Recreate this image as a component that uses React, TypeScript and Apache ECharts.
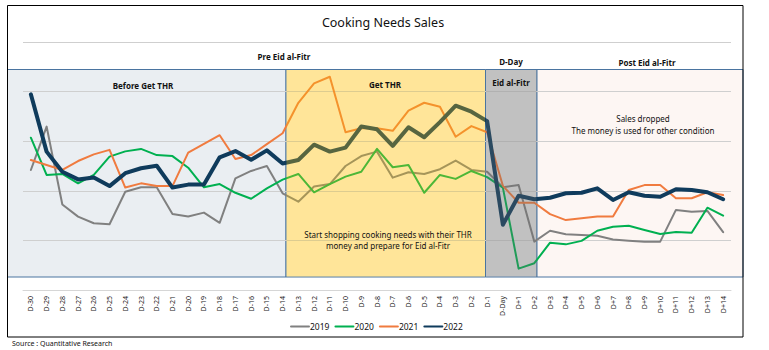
import React, { useEffect, useRef } from "react";
import * as echarts from "echarts";

const categories = [
  "D-30","D-29","D-28","D-27","D-26","D-25","D-24","D-23","D-22","D-21",
  "D-20","D-19","D-18","D-17","D-16","D-15","D-14","D-13","D-12","D-11",
  "D-10","D-9","D-8","D-7","D-6","D-5","D-4","D-3","D-2","D-1",
  "D-Day","D+1","D+2","D+3","D+4","D+5","D+6","D+7","D+8","D+9",
  "D+10","D+11","D+12","D+13","D+14",
];

const sales2019 = [
  48.4, 65.9, 34.5, 29.6, 26.9, 26.5, 39.6, 41.4, 41.4, 30.6,
  29.6, 31.2, 27.1, 45, 48, 50, 39, 35.6, 41.7, 42.7,
  50, 54, 55.8, 45.3, 47.5, 46.8, 48.7, 52.2, 48.4, 47.7,
  41.4, 42.3, 19.5, 23.9, 22.5, 22.2, 21.9, 20.4, 19.9, 19.5,
  19.5, 32.3, 31.6, 31.9, 23.3,
];
const sales2020 = [
  61.4, 46.4, 46.8, 43, 46.4, 53.8, 55.9, 56.9, 54.4, 54,
  49.3, 41.4, 42.7, 39.2, 36.8, 41, 44.5, 46.8, 39.4, 42.7,
  45.7, 47.7, 56.9, 49.5, 50.4, 39.2, 46.4, 44.8, 48, 45.5,
  41.3, 8.6, 10.8, 19.1, 18.4, 19.8, 23.9, 25.5, 25.9, 24.2,
  22.6, 23.4, 23.1, 33.2, 30,
];
const sales2021 = [
  52.4, 50.4, 48.4, 52, 54.7, 56.5, 41.3, 43, 41.9, 41.9,
  55.4, 58.9, 62.4, 52.8, 54.4, 58.8, 63.2, 75.5, 83.3, 86,
  63.6, 65.2, 65.2, 64.2, 72.3, 75.5, 73.9, 61.8, 66.1, 63.6,
  42, 35.2, 35.2, 30.6, 28.2, 28.9, 29.6, 29.6, 40.3, 42.3,
  42.3, 37, 37, 39.4, 38.3,
];
const sales2022 = [
  78.9, 55.8, 47.7, 44.6, 45.4, 41.9, 47.1, 49.1, 50.1, 41.3,
  42.5, 42.5, 53.5, 56, 52.5, 56.3, 51, 52.4, 58.6, 55.8,
  57.4, 65.9, 64.8, 58.1, 65.6, 61.6, 67.7, 74.3, 71.9, 68.1,
  26.3, 38, 36.6, 37.2, 39, 39.2, 41, 36.3, 39.4, 38,
  37.6, 40.6, 40.3, 39.4, 36.6,
];

const seriesNames = ["2019", "2020", "2021", "2022"];
const seriesColors = ["#808080", "#00B050", "#F07B3F", "#0F3B5C"];
const seriesWidths = [2, 2, 2, 4];
const seriesData = [sales2019, sales2020, sales2021, sales2022];

const FONT = "'Noto Sans', sans-serif";

function txt(text: string, x: number, y: number, size: number, bold = false, align = "center") {
  return {
    type: "text",
    x,
    y,
    z: 20,
    style: {
      text,
      fontSize: size,
      fontWeight: bold ? "bold" : "normal",
      fontFamily: FONT,
      fill: "#111",
      align,
      verticalAlign: "middle",
    },
  };
}

export default function App() {
  const ref = useRef<HTMLDivElement>(null);

  useEffect(() => {
    document.body.style.margin = "0";
    if (!ref.current) return;
    const chart = echarts.init(ref.current, undefined, { renderer: "svg" });
    const panelStroke = "#4A74A0";
    const option = {
      animation: false,
      backgroundColor: "#ffffff",
      textStyle: { fontFamily: FONT },
      grid: { left: 23, right: 38, top: 42, bottom: 60 },
      xAxis: {
        type: "category",
        data: categories,
        boundaryGap: true,
        axisLine: { show: true, lineStyle: { color: "#d6d6d6", width: 1 } },
        axisTick: { show: false },
        axisLabel: {
          interval: 0,
          rotate: 90,
          fontSize: 7,
          color: "#222",
          margin: 6,
          fontFamily: FONT,
        },
      },
      yAxis: {
        type: "value",
        min: 0,
        max: 100,
        interval: 20,
        axisLabel: { show: false },
        axisLine: { show: false },
        axisTick: { show: false },
        splitLine: { lineStyle: { color: "#cfcfcf", width: 1 } },
      },
      legend: {
        data: seriesNames,
        left: 285,
        top: 317,
        itemWidth: 18,
        itemHeight: 10,
        itemGap: 5,
        itemStyle: { opacity: 0 },
        textStyle: { fontSize: 8.5, color: "#111", fontFamily: FONT, padding: [0, 0, 0, -4] },
      },
      series: seriesNames.map((name, i) => ({
        name,
        type: "line",
        data: seriesData[i],
        symbol: "none",
        z: 2 + i,
        lineStyle: { color: seriesColors[i], width: seriesWidths[i], cap: "round", join: "round" },
        itemStyle: { color: seriesColors[i] },
      })),
      graphic: [
        { type: "rect", z: -5, shape: { x: 7.5, y: 69.5, width: 278.5, height: 207.5 }, style: { fill: "#EAEEF2", stroke: panelStroke, lineWidth: 1 } },
        { type: "rect", z: -5, shape: { x: 286, y: 69.5, width: 199.5, height: 207.5 }, style: { fill: "#FFF3DB", stroke: panelStroke, lineWidth: 1 } },
        { type: "rect", z: -5, shape: { x: 485.5, y: 69.5, width: 51.5, height: 207.5 }, style: { fill: "#E6E6E6", stroke: panelStroke, lineWidth: 1 } },
        { type: "rect", z: -5, shape: { x: 537, y: 69.5, width: 206, height: 207.5 }, style: { fill: "#FDF6F3", stroke: panelStroke, lineWidth: 1 } },
        { type: "rect", z: 10, shape: { x: 286.5, y: 70, width: 198.5, height: 206.5 }, style: { fill: "rgba(255,200,0,0.3)" } },
        { type: "rect", z: 10, shape: { x: 486, y: 70, width: 50.5, height: 206.5 }, style: { fill: "rgba(110,110,110,0.3)" } },
        { type: "rect", z: 15, shape: { x: 7.5, y: 5.5, width: 735.5, height: 331.5 }, style: { fill: "none", stroke: "#000", lineWidth: 1 } },
        txt("Cooking Needs Sales", 383, 22, 12.5),
        txt("Pre Eid al-Fitr", 284, 56, 8, true),
        txt("D-Day", 511, 61, 8, true),
        txt("Post Eid al-Fitr", 647, 62, 8, true),
        txt("Before Get THR", 143, 85, 8, true),
        txt("Get THR", 385, 84, 8, true),
        txt("Eid al-Fitr", 511, 82, 8, true),
        txt("Sales dropped", 643, 118, 8),
        txt("The money is used for other condition", 643, 130, 8),
        txt("Start shopping cooking needs with their THR", 388, 234, 8),
        txt("money and prepare for Eid al-Fitr", 388, 245, 8),
        txt("Source : Quantitative Research", 12, 343, 7, false, "left"),
      ],
    };
    chart.setOption(option as any);
    return () => chart.dispose();
  }, []);

  return <div ref={ref} style={{ width: 769, height: 350 }} />;
}
